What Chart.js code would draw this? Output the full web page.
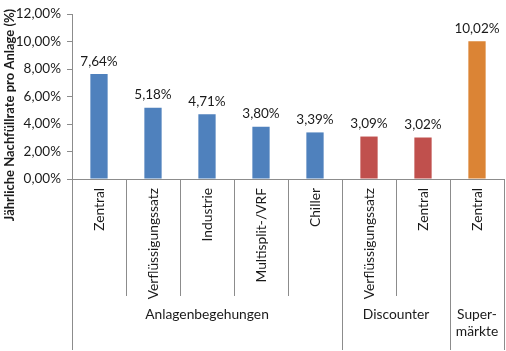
<!DOCTYPE html>
<html>
<head>
<meta charset="utf-8">
<script src="https://cdn.jsdelivr.net/npm/chart.js@4.4.1/dist/chart.umd.min.js"></script>
<style>
  html, body { margin: 0; padding: 0; background: #fff; }
  #wrap { width: 506px; height: 351px; }
</style>
</head>
<body>
<div id="wrap"><canvas id="grafico" width="506" height="351"></canvas></div>
<script>
const kategorien = ['Zentral', 'Verflüssigungssatz', 'Industrie', 'Multisplit-/VRF', 'Chiller', 'Verflüssigungssatz', 'Zentral', 'Zentral'];
const werte = [7.64, 5.18, 4.71, 3.80, 3.39, 3.09, 3.02, 10.02];
const farben = ['#4F81BD', '#4F81BD', '#4F81BD', '#4F81BD', '#4F81BD', '#C0504D', '#C0504D', '#DB8435'];
const gruppen = [
    { name: ['Anlagenbegehungen'], von: 0, bis: 4 },
    { name: ['Discounter'], von: 5, bis: 6 },
    { name: ['Super-', 'märkte'], von: 7, bis: 7 }
];
const achsenTitel = 'Jährliche Nachfüllrate pro Anlage (%)';
const schrift = 'Lato, "Open Sans", sans-serif';

function prozent(v) {
    return v.toFixed(2).replace('.', ',') + '%';
}

// beschriftung ueber den balken
const wertLabels = {
    id: 'wertLabels',
    afterDatasetsDraw(chart) {
        const ctx = chart.ctx;
        const meta = chart.getDatasetMeta(0);
        ctx.save();
        ctx.font = '13.5px ' + schrift;
        ctx.fillStyle = '#1a1a1a';
        ctx.textAlign = 'center';
        ctx.textBaseline = 'bottom';
        meta.data.forEach((bar, i) => {
            ctx.fillText(prozent(werte[i]), bar.x, bar.y - 6);
        });
        ctx.restore();
    }
};

// mehrstufige x-achse + y-titel
const xAchse = {
    id: 'xAchse',
    afterDraw(chart) {
        const ctx = chart.ctx;
        const x = chart.scales.x;
        const area = chart.chartArea;
        const breite = x.getPixelForValue(1) - x.getPixelForValue(0);
        const unten = chart.height - 1;
        const kurz = area.bottom + 117;
        ctx.save();
        ctx.strokeStyle = '#8c8c8c';
        ctx.lineWidth = 1;

        // trennlinien
        for (let i = 0; i <= kategorien.length; i++) {
            const px = Math.round(x.getPixelForValue(i) - breite / 2) + 0.5;
            const lang = gruppen.some(g => g.von === i) || i === kategorien.length;
            ctx.beginPath();
            ctx.moveTo(px, area.bottom);
            ctx.lineTo(px, lang ? unten : kurz);
            ctx.stroke();
        }

        // kategorien senkrecht
        ctx.fillStyle = '#1a1a1a';
        ctx.font = '13.8px ' + schrift;
        ctx.textAlign = 'right';
        ctx.textBaseline = 'middle';
        kategorien.forEach((k, i) => {
            ctx.save();
            ctx.translate(x.getPixelForValue(i) + 1, area.bottom + 9);
            ctx.rotate(-Math.PI / 2);
            ctx.fillText(k, 0, 0);
            ctx.restore();
        });

        // gruppen
        ctx.textAlign = 'center';
        gruppen.forEach(g => {
            const mitte = (x.getPixelForValue(g.von) + x.getPixelForValue(g.bis)) / 2;
            g.name.forEach((zeile, j) => {
                ctx.fillText(zeile, mitte, area.bottom + 136 + j * 17);
            });
        });

        // y titel
        ctx.save();
        ctx.font = 'bold 13px ' + schrift;
        ctx.translate(10, 115);
        ctx.rotate(-Math.PI / 2);
        ctx.fillText(achsenTitel, 0, 0);
        ctx.restore();
        ctx.restore();
    }
};

new Chart(document.getElementById('grafico').getContext('2d'), {
    type: 'bar',
    data: {
        labels: kategorien,
        datasets: [{
            data: werte,
            backgroundColor: farben,
            barPercentage: 0.32,
            categoryPercentage: 1
        }]
    },
    options: {
        responsive: false,
        animation: false,
        layout: { padding: { top: 0, right: 2, bottom: 164, left: 0 } },
        plugins: {
            legend: { display: false },
            tooltip: { enabled: false }
        },
        scales: {
            x: {
                ticks: { display: false },
                grid: { display: false },
                border: { color: '#8c8c8c' }
            },
            y: {
                min: 0,
                max: 12,
                ticks: {
                    stepSize: 2,
                    color: '#1a1a1a',
                    font: { family: schrift, size: 13.5 },
                    padding: 6,
                    callback: v => prozent(v)
                },
                grid: { drawOnChartArea: false, tickLength: 5, color: '#8c8c8c' },
                border: { color: '#8c8c8c' },
                afterFit(scale) { scale.width = 72; }
            }
        }
    },
    plugins: [wertLabels, xAchse]
});
</script>
</body>
</html>
